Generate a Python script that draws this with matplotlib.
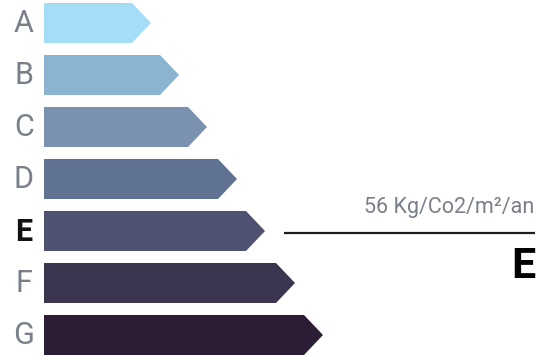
import matplotlib.pyplot as plt
from matplotlib.patches import Polygon

plt.rcParams['font.family'] = ['Roboto', 'DejaVu Sans']

# energy classes and arrow lengths (px)
classes = ['A', 'B', 'C', 'D', 'E', 'F', 'G']
lengths = [107, 135, 163, 193, 221, 251, 279]
colors = ['#a5dcf8', '#8ab4d0', '#7a92b0', '#5f7292', '#4e5170', '#3b3550', '#2d1d34']
current = 'E'
value_label = '56 Kg/Co2/m²/an'

W, H = 543, 359
fig = plt.figure(figsize=(W / 100, H / 100), dpi=100)
ax = fig.add_axes([0, 0, 1, 1])
ax.set_xlim(0, W)
ax.set_ylim(H, 0)
ax.axis('off')

x0 = 44
row_h = 52
bar_h = 40
top0 = 3

for i, (cls, ln, col) in enumerate(zip(classes, lengths, colors)):
    top = top0 + i * row_h
    bot = top + bar_h
    mid = (top + bot) / 2
    tip = x0 + ln
    head = bar_h / 2 - 1
    pts = [(x0, top), (tip - head, top), (tip, mid), (tip - head, bot), (x0, bot)]
    ax.add_patch(Polygon(pts, closed=True, facecolor=col, edgecolor='none'))

    if cls == current:
        ax.text(24, mid + 1, cls, ha='center', va='center', fontsize=22,
                fontweight='bold', color='#111111')
        # indicator line + value
        ax.plot([284, 535], [mid + 2, mid + 2], color='#1e1e1e', lw=1.6,
                solid_capstyle='butt')
        ax.text(534, mid - 18, value_label, ha='right', va='baseline',
                fontsize=15.5, color='#7a7f8a')
        ax.text(535, mid + 47, cls, ha='right', va='baseline', fontsize=31,
                fontweight='bold', color='#000000')
    else:
        ax.text(24, mid + 1, cls, ha='center', va='center', fontsize=22,
                fontweight='normal', color='#7a808a')

fig.savefig('out.png', dpi=100)
